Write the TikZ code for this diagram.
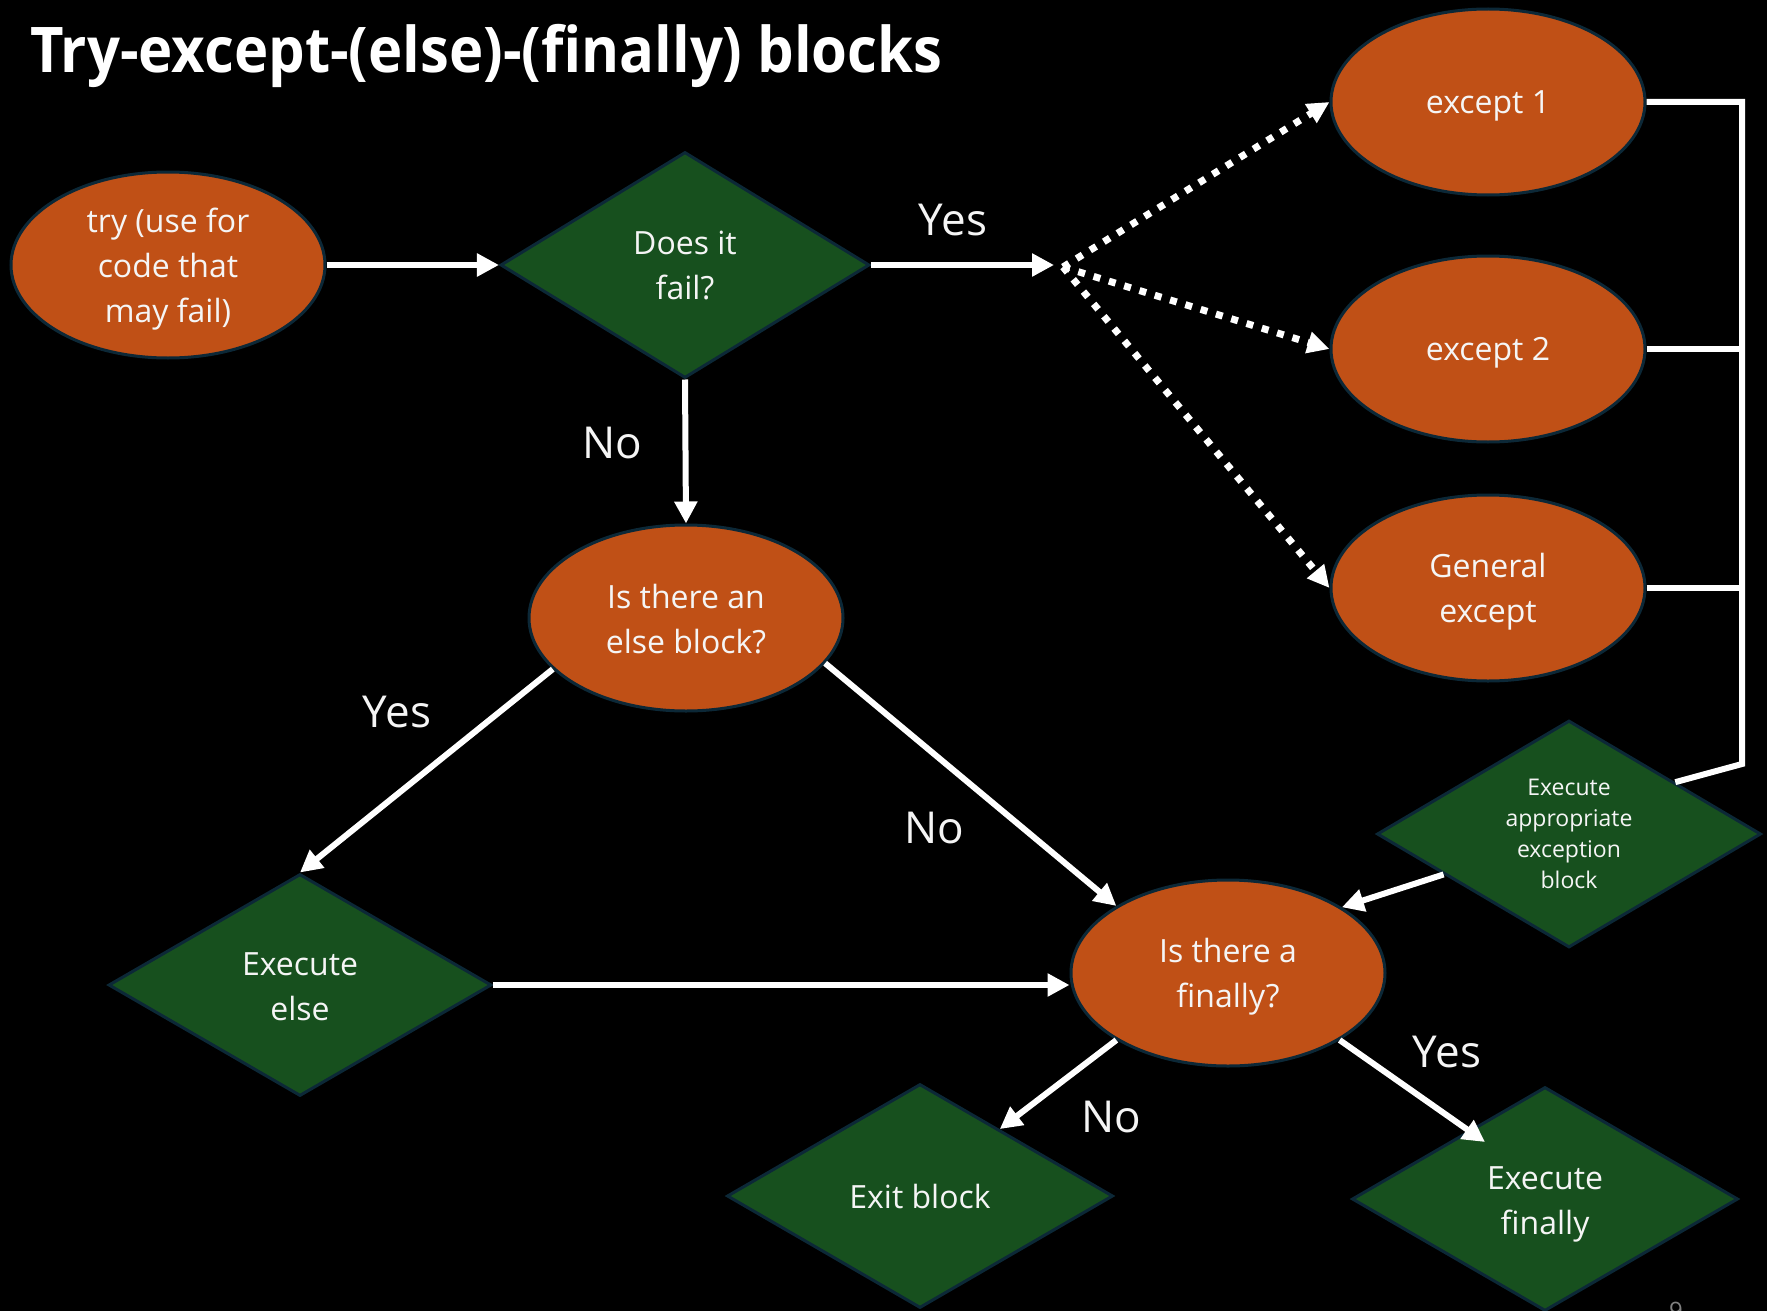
\documentclass[tikz,border=0pt]{standalone}
\usepackage{fontspec}
\setmainfont{Open Sans}
\newfontfamily\titlefont[FakeStretch=0.92]{Open Sans}
\usetikzlibrary{shapes.geometric,arrows.meta,calc}
\definecolor{orng}{RGB}{192,80,22}
\definecolor{grn}{RGB}{23,80,30}
\definecolor{edgec}{RGB}{12,40,55}
\definecolor{txt}{RGB}{245,245,245}
\begin{document}
\begin{tikzpicture}[x=1pt,y=-1pt,
  oval/.style={ellipse,draw=edgec,line width=3pt,fill=orng,minimum width=314pt,minimum height=186pt,inner sep=0pt},
  dia/.style={diamond,draw=edgec,line width=3pt,fill=grn,inner sep=0pt,minimum width=384pt,minimum height=224pt},
  ntext/.style={text=txt,align=center,font=\fontsize{32}{45}\selectfont,inner sep=0pt},
  dtext/.style={ntext,yshift=-4pt},
  stext/.style={text=txt,align=center,font=\fontsize{23}{31}\selectfont,inner sep=0pt},
  lbl/.style={text=txt,font=\fontsize{44}{50}\selectfont,inner sep=0pt},
  arr/.style={draw=white,line width=6pt,-{Triangle[length=22pt,width=22pt]}},
  dots/.style={draw=white,line width=7pt,dash pattern=on 7pt off 9pt,-{Triangle[length=22pt,width=21pt]}},
  bracket/.style={draw=white,line width=6pt,line join=miter}]
\useasboundingbox (0,0) rectangle (1767,1311);
\fill[black] (0,0) rectangle (1767,1311);

% title
\node[anchor=base west,inner sep=0pt,text=white,font=\titlefont\bfseries\fontsize{63}{70}\selectfont] (title) at (30,73) {Try-except-(else)-(finally) blocks};

% nodes
\node[oval,label={[dtext]center:{try (use for\\code that\\may fail)}}] (try) at (168,265) {};
\node[dia,minimum width=369pt,minimum height=226pt,label={[ntext]center:{Does it\\fail?}}] (fail) at (685,265) {};
\node[oval,label={[dtext]center:{except 1}}] (exc1) at (1488,102) {};
\node[oval,label={[dtext]center:{except 2}}] (exc2) at (1488,349) {};
\node[oval,label={[dtext]center:{General\\except}}] (gen) at (1488,588) {};
\node[oval,label={[ntext,yshift=-1pt]center:{Is there an\\else block?}}] (elseq) at (686,618) {};
\node[dia,minimum width=384pt,minimum height=227pt,label={[stext]center:{Execute\\appropriate\\exception\\block}}] (execexc) at (1569,834) {};
\node[dia,minimum width=383pt,minimum height=222pt,label={[ntext,yshift=-2pt]center:{Execute\\else}}] (execelse) at (300,985) {};
\node[oval,label={[dtext]center:{Is there a\\finally?}}] (fin) at (1228,973) {};
\node[dia,minimum width=386pt,minimum height=224pt,label={[ntext]center:{Exit block}}] (exit) at (920,1196) {};
\node[dia,minimum width=386pt,minimum height=224pt,label={[ntext,yshift=-5pt]center:{Execute\\finally}}] (execfin) at (1545,1199) {};

% junction
\coordinate (Jin) at (1054,265);
\coordinate (J) at (1063,267);
\coordinate (bkbot) at (1742,764);

% connectors
\draw[arr] (try) -- (fail);
\draw[arr] (fail) -- (Jin);
\draw[dots] (J) -- (exc1.west);
\draw[dots] (J) -- (exc2.west);
\draw[dots] (J) -- (gen.west);
\draw[arr] (fail.south) -- (elseq.north);
\draw[arr] (elseq.201) -- (execelse.north);
\draw[arr] (elseq.-18) -- (fin.149);
\draw[arr] (execelse.east) -- (fin.west |- execelse.east);
\draw[arr] (execexc) -- (fin.30);
\draw[bracket] (exc1.east) -- (exc1.east -| bkbot) -- (bkbot) -- (execexc.26);
\draw[bracket] (exc2.east) -- (exc2.east -| bkbot);
\draw[bracket] (gen.east) -- (gen.east -| bkbot);
\draw[arr] (fin.211) -- (exit.40);
\draw[arr] (fin.-31) -- ($(execfin.center)+(-60,-57)$);

% labels
\node[lbl] (l1) at (953,220) {Yes};
\node[lbl] (l2) at (612,443) {No};
\node[lbl] (l3) at (397,712) {Yes};
\node[lbl] (l4) at (934,828) {No};
\node[lbl] (l5) at (1111,1117) {No};
\node[lbl] (l6) at (1447,1052) {Yes};

% page number (cut off at the bottom edge, as in the reference)
\begin{scope}
\clip (0,0) rectangle (1767,1311);
\node[anchor=north,text=gray,font=\fontsize{24}{24}\selectfont,inner sep=0pt] (pg) at (1676,1302) {9};
\end{scope}
\end{tikzpicture}
\end{document}
